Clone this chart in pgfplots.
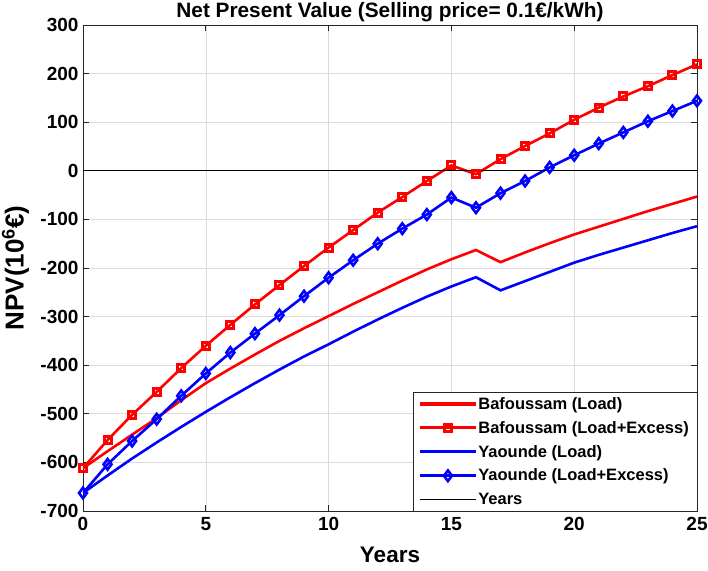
\documentclass[border=0pt]{standalone}
\usepackage{pgfplots}
\pgfplotsset{compat=1.18}
\usepackage{fontspec}
\setmainfont{Liberation Sans}
\definecolor{axgray}{RGB}{38,38,38}
\begin{document}
\begin{tikzpicture}
\begin{axis}[
  scale only axis, width=614bp, height=486bp,
  xmin=0, xmax=25, ymin=-700, ymax=300,
  xtick={0,5,...,25}, ytick={-700,-600,...,300},
  grid=major, major grid style={draw=black!14, line width=0.6bp},
  axis line style={draw=axgray, line width=0.8bp},
  tick style={draw=axgray, line width=0.8bp},
  major tick length=6bp, tick align=inside,
  /pgf/number format/assume math mode=true,
  ticklabel style={font=\fontsize{19bp}{21bp}\selectfont\bfseries},
  xticklabel style={yshift=-3bp},
  yticklabel style={xshift=-1bp},
  every axis title shift=0pt,
  title={Net Present Value (Selling price= 0.1€/kWh)},
  title style={font=\fontsize{20.8bp}{22bp}\selectfont\bfseries, at={(0.5,1)}, anchor=base, inner sep=0pt, yshift=7bp},
  xlabel={Years},
  xlabel style={font=\fontsize{22.5bp}{24bp}\selectfont\bfseries, at={(axis description cs:0.5,-0.09)}, anchor=center},
  ylabel={NPV(10\textsuperscript{6}€)},
  ylabel style={font=\fontsize{26bp}{28bp}\selectfont\bfseries, at={(axis description cs:-0.11,0.5)}, anchor=center},
  legend style={at={(1,0)}, anchor=south east, draw=axgray, fill=white,
    font=\fontsize{16.5bp}{19bp}\selectfont\bfseries, inner xsep=6bp, inner ysep=3bp, row sep=6.5bp},
  legend cell align=left,
  legend image code/.code={\path[#1, mark=none, draw=none, fill] (0bp,-1.6bp) rectangle (56bp,1.6bp); \draw[#1, only marks] plot coordinates {(28bp,0bp)};},
]
\addplot[red, line width=2.6bp] coordinates {
(0,-612)(1,-577)(2,-543)(3,-509)(4,-472)(5,-437)(6,-407)(7,-378)(8,-350)(9,-324)(10,-299)
(11,-274)(12,-250)(13,-226)(14,-203)(15,-182)(16,-163)(17,-188)(18,-168)(19,-149)(20,-131)
(21,-115)(22,-99)(23,-83)(24,-68)(25,-53)};
\addlegendentry{Bafoussam (Load)}
\addplot[red, line width=2.6bp, mark=square, mark size=3.5bp, mark options={solid, line width=3bp}] coordinates {
(0,-612)(1,-554)(2,-502)(3,-455)(4,-406)(5,-360)(6,-317)(7,-275)(8,-235)(9,-196)(10,-158)
(11,-122)(12,-86)(13,-54)(14,-21)(15,11)(16,-7)(17,24)(18,51)(19,77)(20,105)
(21,130)(22,153)(23,174)(24,197)(25,219)};
\addlegendentry{Bafoussam (Load+Excess)}
\addplot[blue, line width=2.6bp] coordinates {
(0,-663)(1,-627)(2,-592)(3,-559)(4,-527)(5,-496)(6,-466)(7,-437)(8,-409)(9,-382)(10,-357)
(11,-331)(12,-306)(13,-282)(14,-259)(15,-238)(16,-219)(17,-246)(18,-227)(19,-208)(20,-189)
(21,-173)(22,-158)(23,-143)(24,-128)(25,-114)};
\addlegendentry{Yaounde (Load)}
\addplot[blue, line width=2.6bp, mark=diamond, mark size=5.3bp, mark options={solid, line width=2.6bp}] coordinates {
(0,-663)(1,-604)(2,-556)(3,-511)(4,-463)(5,-417)(6,-374)(7,-335)(8,-297)(9,-258)(10,-220)
(11,-184)(12,-150)(13,-119)(14,-90)(15,-55)(16,-76)(17,-46)(18,-21)(19,7)(20,32)
(21,56)(22,79)(23,102)(24,123)(25,144)};
\addlegendentry{Yaounde (Load+Excess)}
\addplot[black, line width=0.9bp, legend image code/.code={\draw[black, line width=0.9bp] (0bp,0bp) -- (56bp,0bp);}] coordinates {(0,0)(25,0)};
\addlegendentry{Years}
\end{axis}
\pgfresetboundingbox
\path[use as bounding box] ([xshift=-83bp,yshift=-60bp]current axis.south west) rectangle ([xshift=11bp,yshift=25bp]current axis.north east);
\end{tikzpicture}
\end{document}
